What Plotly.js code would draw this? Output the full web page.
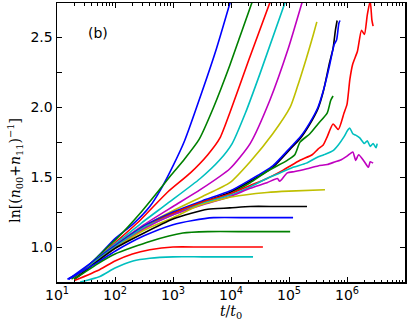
<!DOCTYPE html>
<html>
<head>
<meta charset="utf-8">
<script src="https://cdn.plot.ly/plotly-3.0.1.min.js"></script>
<style>
  html, body { margin: 0; padding: 0; background: #fff; }
  #plot { width: 415px; height: 331px; }
</style>
</head>
<body>
<div id="plot"></div>
<script>
// log10(t/t0) and y values, one pair per curve
let lt1 = [1.18, 1.4, 1.7, 2.0, 2.3, 2.6, 2.8, 3.0, 3.2, 3.5, 3.75, 4.0];
let y1 = [0.77, 0.82, 0.93, 1.06, 1.16, 1.29, 1.42, 1.58, 1.76, 2.11, 2.42, 2.77];
let lt2 = [1.25, 1.5, 1.8, 2.03, 2.43, 2.98, 3.2, 3.45, 3.7, 3.98, 4.15, 4.38];
let y2 = [0.77, 0.85, 0.97, 1.06, 1.24, 1.52, 1.63, 1.77, 2.0, 2.30, 2.50, 2.77];
let lt3 = [1.3, 1.6, 2.0, 2.43, 2.9, 3.3, 3.6, 3.81, 3.98, 4.3, 4.69];
let y3 = [0.77, 0.88, 1.03, 1.19, 1.39, 1.53, 1.66, 1.78, 1.96, 2.33, 2.77];
let lt4 = [1.3, 1.7, 2.0, 2.45, 2.9, 3.47, 3.8, 4.02, 4.25, 4.5, 4.95];
let y4 = [0.77, 0.92, 1.02, 1.17, 1.31, 1.49, 1.62, 1.74, 1.96, 2.24, 2.77];
let lt5 = [1.3, 1.7, 2.0, 2.5, 3.0, 3.47, 3.98, 4.33, 4.67, 4.98, 5.24];
let y5 = [0.77, 0.91, 1.01, 1.16, 1.29, 1.41, 1.56, 1.74, 2.05, 2.41, 2.77];
let lt6 = [1.3, 1.7, 2.0, 2.5, 3.0, 3.5, 3.98, 4.33, 4.72, 5.02, 5.14, 5.3, 5.42, 5.48];
let y6 = [0.77, 0.91, 1.01, 1.15, 1.26, 1.36, 1.46, 1.61, 1.81, 2.0, 2.14, 2.35, 2.52, 2.61];
let lt7 = [1.3, 1.7, 2.0, 2.5, 3.0, 3.5, 3.98, 4.33, 4.72, 5.02, 5.2, 5.36, 5.5, 5.59, 5.7, 5.76, 5.8, 5.83];
let y7 = [0.77, 0.91, 1.0, 1.14, 1.24, 1.32, 1.39, 1.47, 1.57, 1.70, 1.78, 1.88, 1.99, 2.11, 2.32, 2.42, 2.55, 2.62];
let lt8 = [1.2, 1.7, 2.0, 2.5, 3.0, 3.5, 3.98, 4.33, 4.72, 5.02, 5.2, 5.36, 5.5, 5.6, 5.7, 5.78, 5.82, 5.86, 5.88];
let y8 = [0.77, 0.92, 1.01, 1.15, 1.25, 1.33, 1.40, 1.48, 1.58, 1.71, 1.79, 1.89, 2.0, 2.13, 2.30, 2.45, 2.48, 2.60, 2.62];
let lt9 = [1.3, 1.7, 2.0, 2.5, 3.0, 3.5, 3.98, 4.33, 4.62, 4.97, 5.1, 5.19, 5.36, 5.5, 5.66, 5.72, 5.76];
let y9 = [0.77, 0.91, 1.0, 1.14, 1.24, 1.32, 1.38, 1.46, 1.54, 1.62, 1.66, 1.75, 1.81, 1.88, 1.96, 2.05, 2.08];
let lt10 = [1.3, 1.7, 2.0, 2.5, 3.0, 3.5, 3.98, 4.33, 4.62, 4.9, 5.19, 5.4, 5.5, 5.59, 5.66, 5.76, 5.85, 5.95, 6.0, 6.05, 6.1, 6.18, 6.25, 6.3, 6.35, 6.4, 6.43, 6.45];
let y10 = [0.77, 0.91, 1.0, 1.14, 1.24, 1.32, 1.38, 1.44, 1.49, 1.55, 1.62, 1.66, 1.70, 1.73, 1.79, 1.88, 1.84, 1.96, 2.02, 2.2, 2.31, 2.40, 2.55, 2.52, 2.66, 2.76, 2.62, 2.58];
let lt11 = [1.3, 1.7, 2.0, 2.5, 3.0, 3.5, 3.98, 4.33, 4.62, 4.79, 5.07, 5.3, 5.48, 5.6, 5.76, 5.85, 5.95, 6.02, 6.05, 6.1, 6.15, 6.22, 6.3, 6.35, 6.4, 6.45, 6.5, 6.52];
let y11 = [0.77, 0.91, 1.0, 1.14, 1.23, 1.31, 1.37, 1.43, 1.49, 1.52, 1.57, 1.60, 1.64, 1.66, 1.69, 1.73, 1.79, 1.84, 1.85, 1.81, 1.80, 1.78, 1.74, 1.76, 1.72, 1.74, 1.71, 1.74];
let lt12 = [1.3, 1.7, 2.0, 2.5, 3.0, 3.5, 3.98, 4.33, 4.62, 4.8, 4.84, 4.97, 5.1, 5.31, 5.5, 5.66, 5.8, 5.88, 6.0, 6.1, 6.15, 6.2, 6.3, 6.37, 6.4, 6.45];
let y12 = [0.77, 0.90, 0.99, 1.13, 1.23, 1.30, 1.36, 1.42, 1.46, 1.49, 1.47, 1.53, 1.54, 1.56, 1.58, 1.59, 1.61, 1.62, 1.65, 1.68, 1.62, 1.66, 1.61, 1.57, 1.61, 1.60];
let lt13 = [1.3, 1.7, 2.0, 2.5, 3.0, 3.47, 4.03, 4.62, 5.0, 5.62];
let y13 = [0.77, 0.90, 0.99, 1.12, 1.21, 1.30, 1.36, 1.39, 1.40, 1.41];
let lt14 = [1.3, 1.7, 2.0, 2.5, 3.0, 3.3, 3.6, 3.98, 4.33, 4.8, 5.31];
let y14 = [0.77, 0.90, 0.99, 1.10, 1.20, 1.24, 1.27, 1.28, 1.29, 1.29, 1.29];
let lt15 = [1.2, 1.7, 2.0, 2.5, 3.0, 3.34, 3.7, 4.33, 5.07];
let y15 = [0.77, 0.89, 0.97, 1.08, 1.16, 1.19, 1.21, 1.21, 1.21];
let lt16 = [1.3, 1.7, 2.0, 2.6, 3.17, 3.6, 4.3, 5.02];
let y16 = [0.77, 0.88, 0.95, 1.04, 1.10, 1.11, 1.11, 1.11];
let lt17 = [1.3, 1.74, 2.0, 2.3, 2.6, 3.0, 3.5, 4.55];
let y17 = [0.76, 0.84, 0.90, 0.95, 0.98, 1.0, 1.0, 1.0];
let lt18 = [1.4, 1.74, 2.0, 2.31, 2.6, 3.0, 3.5, 4.38];
let y18 = [0.75, 0.79, 0.85, 0.90, 0.92, 0.93, 0.93, 0.93];

let xTickVals = [1e1, 1e2, 1e3, 1e4, 1e5, 1e6, 1e7];
let xTickText = ['10<sup>1</sup>', '10<sup>2</sup>', '10<sup>3</sup>', '10<sup>4</sup>', '10<sup>5</sup>', '10<sup>6</sup>', '10<sup>7</sup>'];
let yTickVals = [1.0, 1.25, 1.5, 1.75, 2.0, 2.25, 2.5];
let yTickText = ['1.0', '', '1.5', '', '2.0', '', '2.5'];

// matplotlib classic colour cycle b g r c m y k
let cycle = ['#0000ff', '#008000', '#ff0000', '#00bfbf', '#bf00bf', '#bfbf00', '#000000'];

let curves = [
    [lt1, y1], [lt2, y2], [lt3, y3], [lt4, y4], [lt5, y5], [lt6, y6],
    [lt7, y7], [lt8, y8], [lt9, y9], [lt10, y10], [lt11, y11], [lt12, y12],
    [lt13, y13], [lt14, y14], [lt15, y15], [lt16, y16], [lt17, y17], [lt18, y18]
];

let traces = curves.map((c, i) => ({
    x: c[0].map(v => Math.pow(10, v)),
    y: c[1],
    mode: 'lines',
    type: 'scatter',
    line: { color: cycle[i % 7], width: 1.6, shape: 'spline', smoothing: 0.6 },
    showlegend: false,
    hoverinfo: 'skip'
}));

let layout = {
    width: 415,
    height: 331,
    margin: { l: 57, r: 10, t: 3, b: 49 },
    paper_bgcolor: '#ffffff',
    plot_bgcolor: '#ffffff',
    font: { family: 'DejaVu Sans', size: 14, color: '#000' },
    xaxis: {
        type: 'log',
        range: [1, 7],
        tickvals: xTickVals,
        ticktext: xTickText,
        ticks: 'inside',
        ticklen: 5,
        tickcolor: '#000',
        minor: { ticks: 'inside', ticklen: 2.5, tickcolor: '#000', dtick: 'D1', showgrid: false },
        showgrid: false,
        zeroline: false,
        showline: true,
        linecolor: '#000',
        linewidth: 1.5,
        mirror: 'allticks',
        title: { text: '<i>t</i>/<i>t</i><sub>0</sub>', font: { family: 'DejaVu Serif', size: 14 }, standoff: 4 }
    },
    yaxis: {
        range: [0.75, 2.745],
        tickvals: yTickVals,
        ticktext: yTickText,
        ticks: 'inside',
        ticklen: 5,
        tickcolor: '#000',
        showgrid: false,
        zeroline: false,
        showline: true,
        linecolor: '#000',
        linewidth: 1.5,
        mirror: 'allticks'
    },
    annotations: [{
        text: '(b)',
        xref: 'paper', yref: 'paper',
        x: 0.083, y: 0.928,
        showarrow: false,
        font: { family: 'DejaVu Sans', size: 14 }
    }, {
        // y axis title, placed by hand to sit where the reference has it
        text: 'ln[(<i>n</i><sub>00</sub>+<i>n</i><sub>11</sub>)<sup>−1</sup>]',
        xref: 'paper', yref: 'paper',
        x: -0.12, y: 0.4,
        xanchor: 'center', yanchor: 'middle',
        textangle: -90,
        showarrow: false,
        font: { family: 'DejaVu Serif', size: 14 }
    }]
};

Plotly.newPlot('plot', traces, layout, { staticPlot: true });
</script>
</body>
</html>
